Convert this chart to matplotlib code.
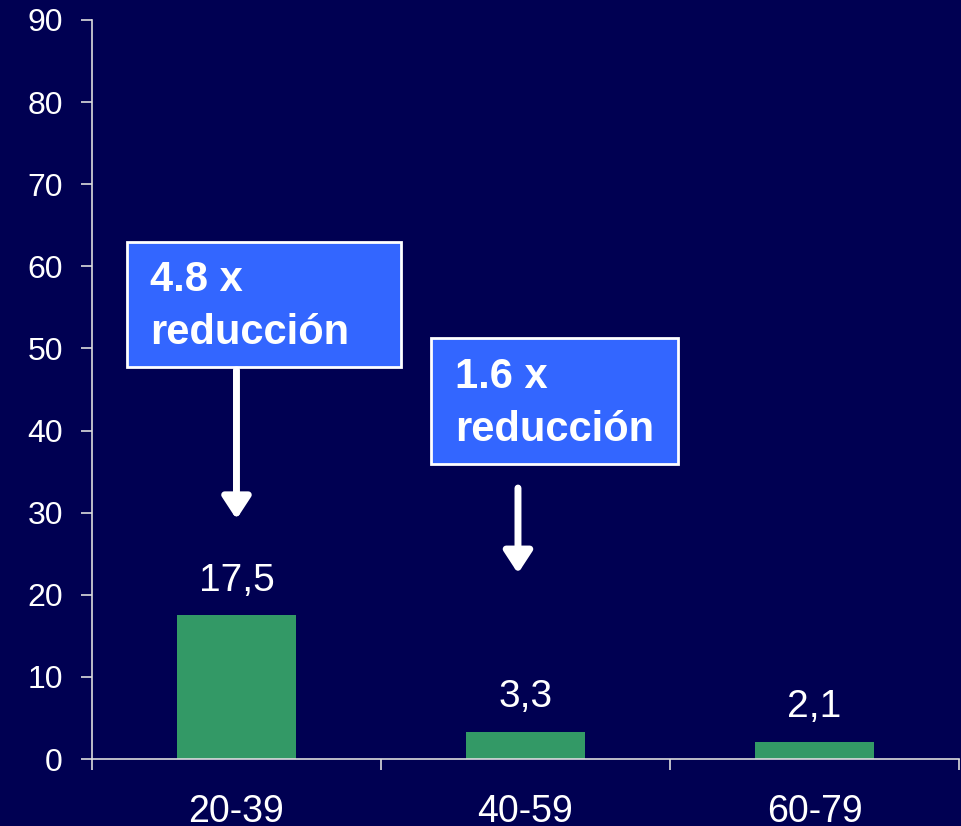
import matplotlib.pyplot as plt
from matplotlib.patches import Rectangle

plt.rcParams['font.family'] = ['Liberation Sans', 'DejaVu Sans']

grupos = ['20-39', '40-59', '60-79']
valores = [17.5, 3.3, 2.1]
etiquetas = ['17,5', '3,3', '2,1']
reducciones = ['4.8 x', '1.6 x']

fondo = '#000052'
verde = '#339966'
azul = '#3366FF'

fig = plt.figure(figsize=(9.62, 8.26), dpi=100, facecolor=fondo)
ax = fig.add_axes([0.0956, 0.0811, 0.9013, 0.8947], facecolor=fondo)

x = range(len(grupos))
ax.bar(x, valores, width=0.41, color=verde, zorder=2)
for xi, v, t in zip(x, valores, etiquetas):
    ax.text(xi, v + 4.2, t, ha='center', va='center', color='white', fontsize=28)

ax.set_xlim(-0.5, 2.5)
ax.set_ylim(0, 90)
ax.set_yticks(range(0, 91, 10))

# ticks mayores en los limites de cada grupo, etiquetas en el centro
ax.set_xticks([-0.5, 0.5, 1.5, 2.5])
ax.set_xticklabels([])
ax.set_xticks(list(x), minor=True)
ax.set_xticklabels(grupos, minor=True)
ax.tick_params(axis='x', which='major', length=8, width=1.2, color='#dddddd', direction='out')
ax.tick_params(axis='x', which='minor', length=0, pad=25, labelsize=27, labelcolor='white')
ax.tick_params(axis='y', length=8, width=1.2, color='#dddddd', pad=13, labelsize=23, labelcolor='white')

for s in ['top', 'right']:
    ax.spines[s].set_visible(False)
for s in ['left', 'bottom']:
    ax.spines[s].set_color('#dddddd')
    ax.spines[s].set_linewidth(1.2)

# cuadros de reduccion con flechas
cuadros = [(-0.379, 47.7, 0.948, 15.3), (0.673, 35.9, 0.855, 15.4)]
textos_xy = [(-0.299, 58.3, 51.9), (0.756, 46.5, 40.1)]
flechas = [(0.0, 47.4, 29.2), (0.974, 33.0, 22.6)]
for (bx, by, bw, bh), (tx, y1, y2), (fx, f0, f1), r in zip(cuadros, textos_xy, flechas, reducciones):
    ax.add_patch(Rectangle((bx, by), bw, bh, facecolor=azul, edgecolor='white',
                           linewidth=2, zorder=3, clip_on=False))
    ax.text(tx, y1, r, ha='left', va='center', color='white', fontsize=30,
            fontweight='bold', zorder=4)
    ax.text(tx, y2, 'reducción', ha='left', va='center', color='white', fontsize=30,
            fontweight='bold', zorder=4)
    ax.annotate('', xy=(fx, f1), xytext=(fx, f0),
                arrowprops=dict(arrowstyle='-|>,head_length=1.3,head_width=0.85',
                                color='white', lw=5, shrinkA=0, shrinkB=0), zorder=4)

fig.savefig('out.png', dpi=100, facecolor=fondo)
